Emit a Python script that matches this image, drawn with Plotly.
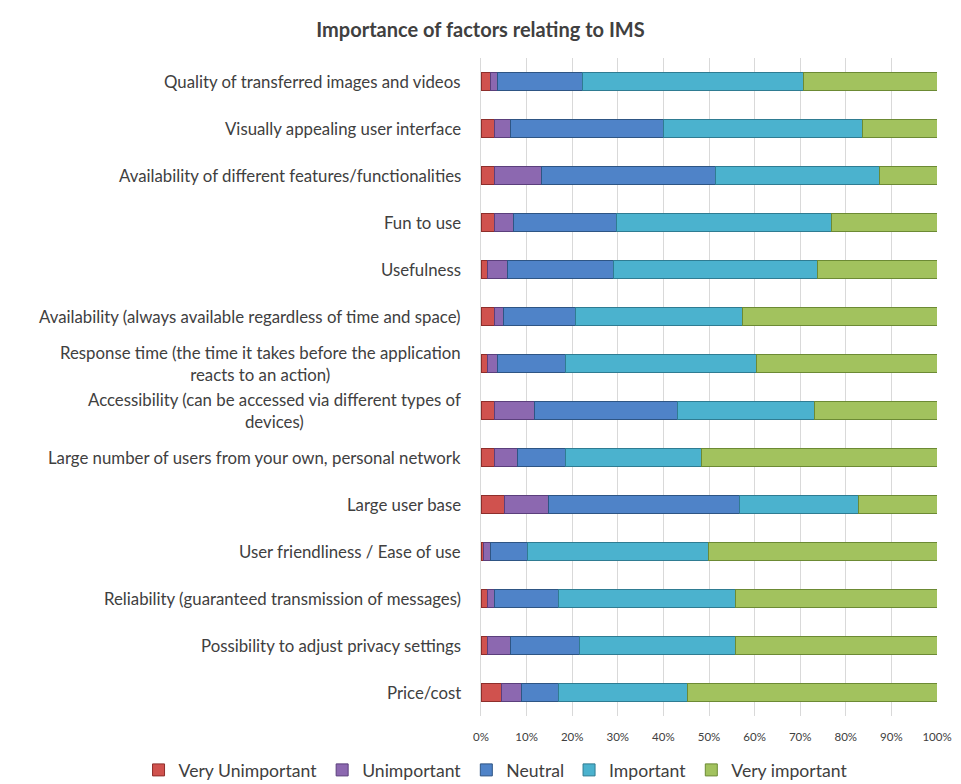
import plotly.graph_objects as go

categories = [
    "Quality of transferred images and videos",
    "Visually appealing user interface",
    "Availability of different features/functionalities",
    "Fun to use",
    "Usefulness",
    "Availability (always available regardless of time and space)",
    "Response time (the time it takes before the application<br>reacts to an action)",
    "Accessibility (can be accessed via different types of<br>devices)",
    "Large number of users from your own, personal network",
    "Large user base",
    "User friendliness / Ease of use",
    "Reliability (guaranteed transmission of messages)",
    "Possibility to adjust privacy settings",
    "Price/cost",
]

very_unimportant = [2.1, 2.85, 2.85, 2.85, 1.4, 2.85, 1.4, 2.85, 2.85, 5.2, 0.5, 1.4, 1.4, 4.5]
unimportant = [1.5, 3.65, 10.35, 4.35, 4.4, 2.15, 2.2, 8.95, 5.25, 9.7, 1.6, 1.45, 5.1, 4.3]
neutral = [18.6, 33.6, 38.3, 22.6, 23.2, 15.8, 15.0, 31.2, 10.5, 41.8, 8.1, 14.15, 15.1, 8.2]
important = [48.6, 43.5, 35.9, 47.1, 44.8, 36.6, 41.8, 30.2, 29.7, 26.0, 39.6, 38.8, 34.2, 28.2]
very_important = [29.2, 16.4, 12.6, 23.1, 26.2, 42.6, 39.6, 26.8, 51.7, 17.3, 50.2, 44.2, 44.2, 54.8]

series_names = ["Very Unimportant", "Unimportant", "Neutral", "Important", "Very important"]
series_values = [very_unimportant, unimportant, neutral, important, very_important]
colors = ["#D0524E", "#8C68B0", "#4F83C8", "#4BB2CE", "#A2C25E"]
edges = ["#8E2E2B", "#5B3F7C", "#2E5584", "#2F7C92", "#6C8A34"]

FONT = "Lato, Open Sans, sans-serif"
TXT = "#404040"

fig = go.Figure()
for name, vals, c, e in zip(series_names, series_values, colors, edges):
    fig.add_trace(go.Bar(
        y=categories, x=vals, name=name, orientation="h",
        marker=dict(color=c, line=dict(color=e, width=1)),
        width=0.39,
    ))

for cat in categories:
    fig.add_annotation(
        x=0, xref="paper", y=cat, yref="y", text=cat,
        xanchor="right", yanchor="middle", align="center",
        xshift=-18, showarrow=False,
        font=dict(family=FONT, size=16.8, color=TXT),
    )

fig.update_layout(
    barmode="stack",
    width=961, height=784,
    margin=dict(l=481, r=24, t=58, b=68, autoexpand=False),
    paper_bgcolor="white", plot_bgcolor="white",
    title=dict(text="<b>Importance of factors relating to IMS</b>", x=0.5, xanchor="center",
               xref="container", y=0.9617, yanchor="middle",
               font=dict(family=FONT, size=20, color=TXT)),
    legend=dict(orientation="h", xref="paper", x=-0.751, xanchor="left",
                yref="paper", y=-0.082, yanchor="middle", traceorder="normal",
                font=dict(family=FONT, size=17.6, color=TXT),
                itemwidth=30, tracegroupgap=0),
    showlegend=True,
)
fig.update_xaxes(range=[0, 100], dtick=10, ticksuffix="%", showgrid=True,
                 gridcolor="#D9D9D9", gridwidth=1, zeroline=False,
                 showline=False, ticklabelstandoff=12,
                 tickfont=dict(family=FONT, size=11.5, color=TXT),
                 ticks="", ticklen=0)
fig.update_yaxes(autorange="reversed", showticklabels=False, showline=True,
                 linecolor="#D9D9D9", linewidth=1, ticks="")

fig.write_html(
    "out.html",
    config={"displayModeBar": False},
    post_script="document.body.style.margin='0';document.body.style.overflow='hidden';",
)
